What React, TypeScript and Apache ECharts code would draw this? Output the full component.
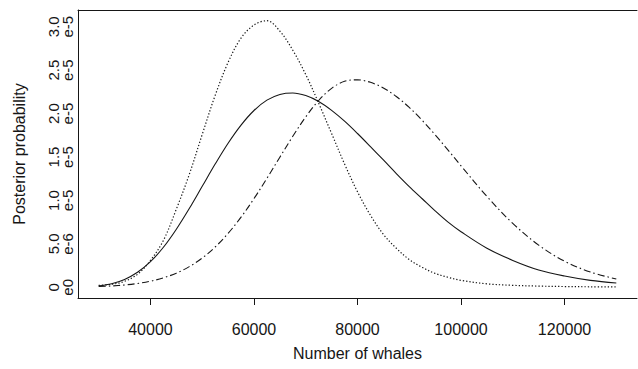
import React, { useEffect, useRef } from "react";
import * as echarts from "echarts";

// Number of whales (x values)
const whales = [
  30000, 32500, 35000, 37500, 40000, 42500, 45000, 47500, 50000, 52500,
  55000, 57500, 60000, 62500, 65000, 67500, 70000, 72500, 75000, 77500,
  80000, 82500, 85000, 87500, 90000, 92500, 95000, 97500, 100000, 105000,
  110000, 115000, 120000, 125000, 130000,
];

// Posterior probability, in units of 1e-5
const dottedE5 = [
  0.023, 0.035, 0.069, 0.15, 0.31, 0.54, 0.9, 1.3, 1.76, 2.21,
  2.59, 2.87, 3.02, 3.07, 2.95, 2.73, 2.45, 2.12, 1.77, 1.42,
  1.1, 0.83, 0.61, 0.45, 0.32, 0.23, 0.16, 0.115, 0.08, 0.04,
  0.023, 0.014, 0.009, 0.006, 0.004,
];
const solidE5 = [
  0.017, 0.042, 0.091, 0.173, 0.295, 0.461, 0.669, 0.907, 1.163, 1.419,
  1.659, 1.868, 2.036, 2.155, 2.221, 2.238, 2.208, 2.14, 2.038, 1.913,
  1.771, 1.62, 1.466, 1.31, 1.16, 1.02, 0.88, 0.75, 0.64, 0.45,
  0.31, 0.2, 0.13, 0.08, 0.05,
];
const dashDotE5 = [
  0.009, 0.016, 0.027, 0.044, 0.07, 0.109, 0.163, 0.238, 0.337, 0.464,
  0.621, 0.808, 1.021, 1.255, 1.498, 1.739, 1.962, 2.151, 2.291, 2.372,
  2.389, 2.36, 2.295, 2.197, 2.071, 1.922, 1.756, 1.58, 1.399, 1.047,
  0.736, 0.486, 0.301, 0.176, 0.096,
];

const xTicks = [40000, 60000, 80000, 100000, 120000];
const yTicks = [0, 0.5, 1, 1.5, 2, 2.5, 3];
const yTickLabels = ["0\ne0", "5.0\ne-6", "1.0\ne-5", "1.5\ne-5", "2.0\ne-5", "2.5\ne-5", "3.0\ne-5"];

const FONT = "'Liberation Sans', Arial, Helvetica, sans-serif";
const INK = "#161616";

export default function App() {
  const ref = useRef<HTMLDivElement>(null);

  useEffect(() => {
    if (!ref.current) return;
    const chart = echarts.init(ref.current, null, { renderer: "svg" });
    const pairs = (ys: number[]) => whales.map((x, i) => [x, ys[i]]);
    const lineBase = { type: "line", symbol: "none", smooth: 0.35, silent: true };

    chart.setOption({
      animation: false,
      backgroundColor: "#ffffff",
      grid: { left: 78, right: 1, top: 10, bottom: 71, containLabel: false, outerBoundsMode: "none" },
      xAxis: [
        {
          type: "value",
          position: "bottom",
          min: 26000,
          max: 134000,
          axisLine: { show: true, onZero: false, lineStyle: { color: INK, width: 1 } },
          axisTick: { show: true, length: 7, customValues: xTicks, lineStyle: { color: INK, width: 1 } },
          axisLabel: {
            customValues: xTicks,
            formatter: (v: number) => String(v),
            margin: 23,
            fontSize: 16,
            color: INK,
            fontFamily: FONT,
          },
          splitLine: { show: false },
          name: "Number of whales",
          nameLocation: "middle",
          nameGap: 47,
          nameTextStyle: { fontSize: 16, color: INK, fontFamily: FONT },
        },
        {
          type: "value",
          position: "top",
          min: 26000,
          max: 134000,
          axisLine: { show: true, onZero: false, lineStyle: { color: INK, width: 1 } },
          axisTick: { show: false },
          axisLabel: { show: false },
          splitLine: { show: false },
        },
      ],
      yAxis: {
        type: "value",
        min: -0.123,
        max: 3.193,
        axisLine: { show: true, onZero: false, lineStyle: { color: INK, width: 1 } },
        axisTick: { show: false },
        axisLabel: {
          customValues: yTicks,
          rotate: 90,
          margin: 4,
          fontSize: 15,
          lineHeight: 14,
          color: INK,
          fontFamily: FONT,
          formatter: (v: number) => {
            let best = -1;
            let bd = Infinity;
            yTicks.forEach((t, i) => {
              const d = Math.abs(t - v);
              if (d < bd) { bd = d; best = i; }
            });
            return bd < 1e-6 ? yTickLabels[best] : "";
          },
        },
        splitLine: { show: false },
        name: "Posterior probability",
        nameLocation: "middle",
        nameGap: 51,
        nameRotate: 90,
        nameTextStyle: { fontSize: 16, color: INK, fontFamily: FONT },
      },
      series: [
        {
          ...lineBase,
          name: "dotted",
          data: pairs(dottedE5),
          lineStyle: { color: INK, width: 1.2, type: [1.3, 2] },
        },
        {
          ...lineBase,
          name: "solid",
          data: pairs(solidE5),
          lineStyle: { color: INK, width: 1.1, type: "solid" },
        },
        {
          ...lineBase,
          name: "dashdot",
          data: pairs(dashDotE5),
          lineStyle: { color: INK, width: 1.1, type: [7, 3, 1.5, 3] },
        },
      ],
    });

    return () => chart.dispose();
  }, []);

  return (
    <div
      ref={ref}
      style={{ position: "fixed", left: 0, top: 0, width: 638, height: 369, background: "#fff" }}
    />
  );
}
